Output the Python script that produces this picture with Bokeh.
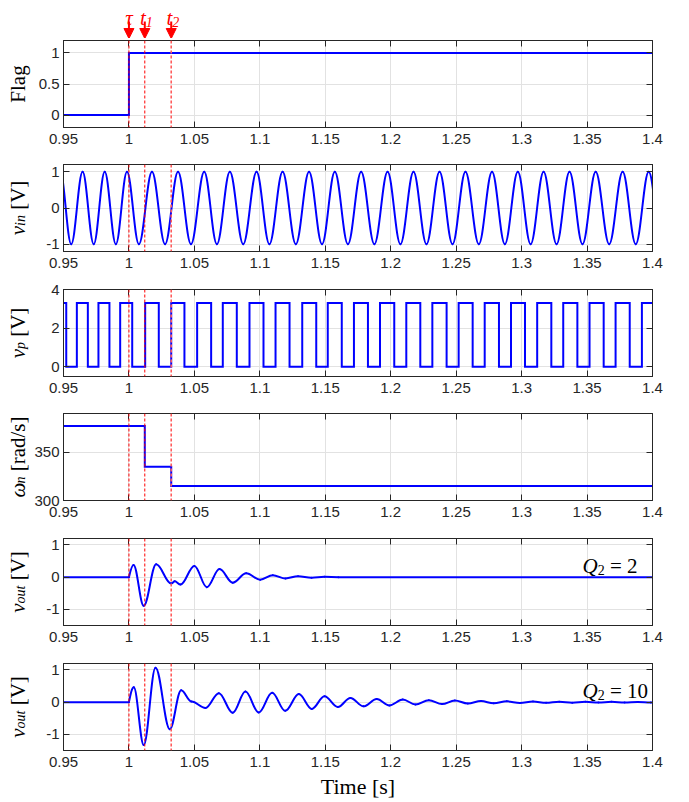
import numpy as np
from bokeh.plotting import figure
from bokeh.layouts import column, row
from bokeh.models import (Range1d, FixedTicker, PrintfTickFormatter, LinearAxis, Span,
                          Arrow, NormalHead, ColumnDataSource)
from bokeh.core.properties import value
from bokeh.embed import file_html
from bokeh.resources import INLINE

# ---------------- data ----------------
x_ticks = [0.95, 1.0, 1.05, 1.1, 1.15, 1.2, 1.25, 1.3, 1.35, 1.4]

event_t = [1.0, 1.0121, 1.0323]          # tau, t1, t2
event_main = ["τ", "t", "t"]
event_sub = ["", "1", "2"]

flag_t = [0.95, 1.0, 1.4]
flag_v = [0, 1, 1]

# extrema of v_in (peaks / troughs)
vin_t = [0.9475, 0.9559, 0.9646, 0.9731, 0.9815, 0.9900, 0.9985, 1.0076, 1.0176, 1.0276,
         1.0375, 1.0474, 1.0575, 1.0672, 1.0771, 1.0873, 1.0975, 1.1073, 1.1174, 1.1275,
         1.1376, 1.1475, 1.1573, 1.1673, 1.1774, 1.1875, 1.1976, 1.2074, 1.2174, 1.2273,
         1.2373, 1.2472, 1.2571, 1.2673, 1.2774, 1.2872, 1.2971, 1.3069, 1.3168, 1.3267,
         1.3366, 1.3465, 1.3566, 1.3669, 1.3772, 1.3872, 1.3971, 1.4071]
vin_v = [1, -1, 1, -1, 1, -1, 1, -1, 1, -1,
         1, -1, 1, -1, 1, -1, 1, -1, 1, -1,
         1, -1, 1, -1, 1, -1, 1, -1, 1, -1,
         1, -1, 1, -1, 1, -1, 1, -1, 1, -1,
         1, -1, 1, -1, 1, -1, 1, -1]

# switching instants of v_p and the level after each instant
vp_t = [0.95, 0.9521, 0.9602, 0.9686, 0.9767, 0.9851, 0.9933, 1.0025, 1.0124, 1.0228,
        1.0323, 1.0424, 1.0521, 1.0628, 1.0717, 1.0824, 1.0921, 1.1028, 1.1120, 1.1227,
        1.1324, 1.1431, 1.1519, 1.1626, 1.1719, 1.1826, 1.1918, 1.2027, 1.2119, 1.2226,
        1.2318, 1.2427, 1.2519, 1.2626, 1.2718, 1.2827, 1.2919, 1.3026, 1.3119, 1.3227,
        1.3318, 1.3426, 1.3519, 1.3627, 1.3718, 1.3826, 1.3919, 1.4]
vp_v = [3.3, 0, 3.3, 0, 3.3, 0, 3.3, 0, 3.3, 0,
        3.3, 0, 3.3, 0, 3.3, 0, 3.3, 0, 3.3, 0,
        3.3, 0, 3.3, 0, 3.3, 0, 3.3, 0, 3.3, 0,
        3.3, 0, 3.3, 0, 3.3, 0, 3.3, 0, 3.3, 0,
        3.3, 0, 3.3, 0, 3.3, 0, 3.3, 3.3]

wn_t = [0.95, 1.0121, 1.0323, 1.4]
wn_v = [377, 335, 315, 315]

# v_out, Q2 = 2 : flat, then extrema, then flat
vq2_t = [0.95, 1.0, 1.0035, 1.0113, 1.0208, 1.0323, 1.0350, 1.0394, 1.0500, 1.0595,
         1.0692, 1.0793, 1.0896, 1.1003, 1.1099, 1.1196, 1.1292, 1.1395, 1.1495, 1.16, 1.4]
vq2_v = [0, 0, 0.38, -0.89, 0.40, -0.20, -0.13, -0.23, 0.35, -0.31,
         0.25, -0.17, 0.12, -0.08, 0.06, -0.04, 0.03, -0.015, 0.01, 0, 0]

# v_out, Q2 = 10
vq10_t = [0.95, 1.0, 1.0037, 1.0113, 1.0203, 1.0312, 1.0399, 1.0478, 1.0585, 1.0687,
          1.0793, 1.0890, 1.0992, 1.1094, 1.1194, 1.1298, 1.1397, 1.1494, 1.1596, 1.1692,
          1.1792, 1.1893, 1.1990, 1.2092, 1.2189, 1.2291, 1.2392, 1.2490, 1.2589, 1.2690,
          1.2787, 1.2887, 1.2987, 1.3087, 1.3187, 1.3287, 1.3387, 1.3487, 1.3587, 1.3687,
          1.3787, 1.3887, 1.3987, 1.4087]
vq10_v = [0, 0, 0.46, -1.33, 1.07, -0.84, 0.37, 0.02, -0.18, 0.28,
          -0.33, 0.33, -0.32, 0.29, -0.27, 0.25, -0.21, 0.18, -0.15, 0.13,
          -0.13, 0.10, -0.10, 0.08, -0.07, 0.06, -0.06, 0.05, -0.04, 0.035,
          -0.035, 0.025, -0.025, 0.02, -0.02, 0.015, -0.015, 0.012, -0.012, 0.01,
          -0.01, 0.008, -0.008, 0.005]

# ---------------- styling / layout ----------------
BLUE = "#0000ff"
AX = "#262626"
GRID = "#e2e2e2"
RED = "#ff0000"
SANS = "Liberation Sans"
SERIF = "Liberation Serif"
TICK_FS = "15px"
LAB_FS = 21
SUB_FS = 14
K = 0.3644

LABW = 31          # width of the y-label strip
LEFT = 31          # left border of each plot (tick labels)
RIGHT = 36
FW = 589
FH = 87
STRIP_H = 38
TOPS = [2, 2, 9, 2, 2, 2]
BOTTOMS = [35, 29, 35, 36, 36, 51]
TOTAL_H = STRIP_H + sum(t + FH + b for t, b in zip(TOPS, BOTTOMS))
BASE_X = 17

EM = {"v": .444, "i": .278, "n": .5, "p": .5, "o": .5, "u": .5, "t": .278, "Q": .722, "ω": .66,
      "F": .556, "l": .278, "a": .444, "g": .5, " ": .25, "[": .333, "]": .333, "V": .722,
      "r": .333, "d": .5, "/": .278, "s": .389, "=": .564, "0": .5, "1": .5, "2": .5}


def tw(text, size):
    return sum(EM.get(c, .5) for c in text) * size


def style_axis(ax, labels=True, standoff=5):
    ax.axis_line_color = AX
    ax.axis_line_width = 1
    ax.major_tick_line_color = AX
    ax.major_tick_line_width = 1
    ax.major_tick_in = 6
    ax.major_tick_out = 0
    ax.minor_tick_line_color = None
    if labels:
        ax.major_label_text_font = SANS
        ax.major_label_text_font_size = TICK_FS
        ax.major_label_text_color = AX
        ax.major_label_standoff = standoff
        ax.formatter = PrintfTickFormatter(format="%g")
    else:
        ax.major_label_text_color = None
        ax.major_label_standoff = 0


def make_fig(ylo, yhi, yticks, idx):
    p = figure(frame_width=FW, frame_height=FH,
               x_range=Range1d(0.95, 1.4), y_range=Range1d(ylo, yhi),
               output_backend="svg", toolbar_location=None,
               min_border_left=LEFT, min_border_right=RIGHT,
               min_border_top=TOPS[idx], min_border_bottom=BOTTOMS[idx])
    xt = FixedTicker(ticks=x_ticks)
    yt = FixedTicker(ticks=yticks)
    bottom_ax = p.below[0]
    left_ax = p.left[0]
    bottom_ax.ticker = xt
    left_ax.ticker = yt
    style_axis(bottom_ax, True, 6)
    style_axis(left_ax, True, 4)
    p.xgrid.ticker = xt
    p.ygrid.ticker = yt
    for g in (p.xgrid, p.ygrid):
        g.grid_line_color = GRID
        g.grid_line_width = 1
    top = LinearAxis(ticker=xt)
    style_axis(top, False)
    p.add_layout(top, "above")
    right = LinearAxis(ticker=yt)
    style_axis(right, False)
    p.add_layout(right, "right")
    p.outline_line_color = AX
    p.outline_line_width = 1
    for i, tx in enumerate(event_t):
        if i < 2:
            p.add_layout(Span(location=tx, dimension="height", line_color=RED,
                              line_dash="3 2", line_width=1))
        else:
            p.add_layout(Span(location=tx, dimension="height", line_color="#ff5c5c",
                              line_dash="3 2", line_width=1.6))
    return p


def smooth(p, t, v, kink=None):
    t = np.asarray(t, float)
    v = np.asarray(v, float)
    dx = np.diff(t)
    cy0 = v[:-1].copy()
    if kink is not None:
        cy0[kink] = v[kink] + 0.6 * (v[kink + 1] - v[kink])
    src = ColumnDataSource(dict(x0=t[:-1], y0=v[:-1], x1=t[1:], y1=v[1:],
                                cx0=t[:-1] + K * dx, cy0=cy0,
                                cx1=t[1:] - K * dx, cy1=v[1:]))
    p.bezier(x0="x0", y0="y0", x1="x1", y1="y1", cx0="cx0", cy0="cy0",
             cx1="cx1", cy1="cy1", source=src, line_color=BLUE, line_width=2,
             line_cap="round")


# pieces: (text, size, style, baseline shift, gap before)
def qlabel(p, pieces, ylo, yhi):
    upp = (yhi - ylo) / FH   # data units per pixel
    off = -70
    for text, size, style, shift, gap in pieces:
        off += gap
        p.text(x=[1.4], y=[yhi - (27 + shift) * upp], text=[text], x_offset=off,
               text_align="left", text_baseline="alphabetic",
               text_font=value(SERIF), text_font_style=style,
               text_font_size=f"{size}px", text_color="black")
        off += tw(text, size)


# ---------------- top strip with the event markers ----------------
strip = figure(frame_width=FW, frame_height=STRIP_H,
               x_range=Range1d(0.95, 1.4), y_range=Range1d(0, STRIP_H),
               output_backend="svg", toolbar_location=None,
               x_axis_type=None, y_axis_type=None,
               min_border_left=LEFT, min_border_right=RIGHT,
               min_border_top=0, min_border_bottom=0)
strip.outline_line_color = None
for tx, m, s in zip(event_t, event_main, event_sub):
    strip.add_layout(Arrow(x_start=tx, y_start=STRIP_H - 21, x_end=tx, y_end=0,
                           start_units="data", end_units="data",
                           line_color=RED, line_width=2,
                           end=NormalHead(size=10, fill_color=RED, line_color=RED)))
    if s == "":
        strip.text(x=[tx], y=[STRIP_H - 17], text=[m], text_align="center",
                   text_baseline="alphabetic", text_font=value(SERIF),
                   text_font_style="italic", text_font_size="21px", text_color=RED)
    else:
        strip.text(x=[tx], y=[STRIP_H - 17], text=[m], x_offset=1, text_align="right",
                   text_baseline="alphabetic", text_font=value(SERIF),
                   text_font_style="italic", text_font_size="21px", text_color=RED)
        strip.text(x=[tx], y=[STRIP_H - 21], text=[s], x_offset=1, text_align="left",
                   text_baseline="alphabetic", text_font=value(SERIF),
                   text_font_style="italic", text_font_size="14px", text_color=RED)

# ---------------- plots ----------------
p1 = make_fig(-0.2, 1.2, [0, 0.5, 1], 0)
p1.step(flag_t, flag_v, mode="after", line_color=BLUE, line_width=2, line_join="miter")

p2 = make_fig(-1.2, 1.2, [-1, 0, 1], 1)
smooth(p2, vin_t, vin_v)

p3 = make_fig(-0.5, 4, [0, 2, 4], 2)
p3.step(vp_t, vp_v, mode="after", line_color=BLUE, line_width=2, line_join="miter")

p4 = make_fig(300, 390, [300, 350], 3)
p4.step(wn_t, wn_v, mode="after", line_color=BLUE, line_width=2, line_join="miter")

SP = tw(" ", LAB_FS)
p5 = make_fig(-1.5, 1.2, [-1, 0, 1], 4)
smooth(p5, vq2_t, vq2_v, kink=1)
qlabel(p5, [("Q", LAB_FS, "italic", 0, 0), ("2", SUB_FS, "normal", 4, 0),
            ("= 2", LAB_FS, "normal", 0, SP)], -1.5, 1.2)

p6 = make_fig(-1.5, 1.2, [-1, 0, 1], 5)
smooth(p6, vq10_t, vq10_v, kink=1)
qlabel(p6, [("Q", LAB_FS, "italic", 0, 0), ("2", SUB_FS, "normal", 4, 0),
            ("= 10", LAB_FS, "normal", 0, SP)], -1.5, 1.2)
xa = p6.below[0]
xa.axis_label = "Time [s]"
xa.axis_label_text_font = SERIF
xa.axis_label_text_font_style = "normal"
xa.axis_label_text_font_size = "22px"
xa.axis_label_text_color = "black"
xa.axis_label_standoff = 4

# ---------------- y-label strip ----------------
ylabels = [
    [("Flag", LAB_FS, "normal", 0, 0)],
    [("v", LAB_FS, "italic", 0, 0), ("in", SUB_FS, "italic", 3, 0), ("[V]", LAB_FS, "normal", 0, SP)],
    [("v", LAB_FS, "italic", 0, 0), ("p", SUB_FS, "italic", 3, 0), ("[V]", LAB_FS, "normal", 0, SP)],
    [("ω", LAB_FS, "italic", 0, 0), ("n", SUB_FS, "italic", 3, 0), ("[rad/s]", LAB_FS, "normal", 0, SP)],
    [("v", LAB_FS, "italic", 0, 0), ("out", SUB_FS, "italic", 3, 0), ("[V]", LAB_FS, "normal", 0, SP)],
    [("v", LAB_FS, "italic", 0, 0), ("out", SUB_FS, "italic", 3, 0), ("[V]", LAB_FS, "normal", 0, SP)],
]
lab = figure(frame_width=LABW, frame_height=TOTAL_H,
             x_range=Range1d(0, LABW), y_range=Range1d(0, TOTAL_H),
             output_backend="svg", toolbar_location=None,
             x_axis_type=None, y_axis_type=None, min_border=0)
lab.outline_line_color = None
top_px = STRIP_H
for pieces, t_b, b in zip(ylabels, TOPS, BOTTOMS):
    center = top_px + t_b + FH / 2
    total = sum(tw(t, s) + g for t, s, _, _, g in pieces)
    start = TOTAL_H - (center + total / 2)
    for text, size, style, shift, gap in pieces:
        start += gap
        lab.text(x=[BASE_X + shift], y=[start], text=[text], angle=np.pi / 2,
                 text_align="left", text_baseline="alphabetic",
                 text_font=value(SERIF), text_font_style=style,
                 text_font_size=f"{size}px", text_color="black")
        start += tw(text, size)
    top_px += t_b + FH + b

layout = row(lab, column(strip, p1, p2, p3, p4, p5, p6, spacing=0), spacing=0)
open("out.html", "w").write(file_html(layout, INLINE))
